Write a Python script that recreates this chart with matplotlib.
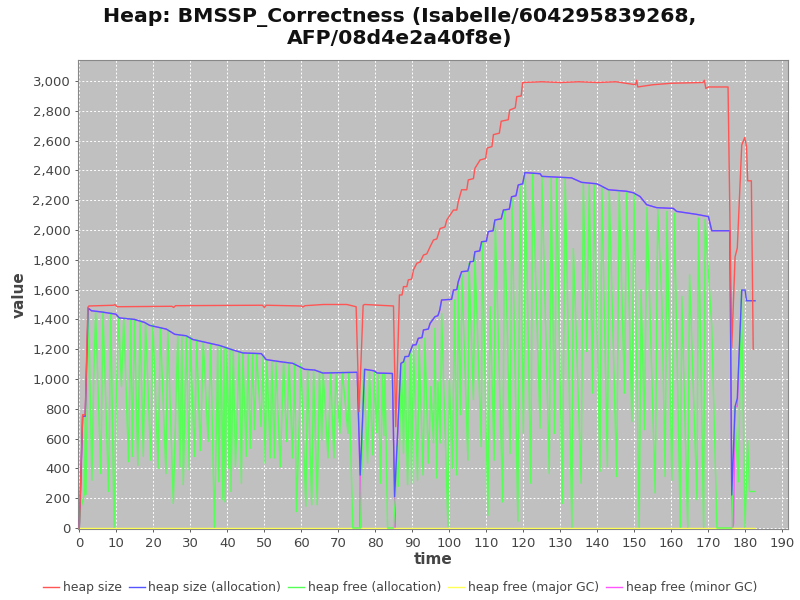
import matplotlib
matplotlib.use("Agg")
import matplotlib.pyplot as plt
from matplotlib.ticker import FuncFormatter, MultipleLocator

# heap size
size_t = [0, 0.9, 1.6, 2.3, 2.6, 9.3, 9.6, 10.2, 25.0, 25.5, 26.0, 49.5, 50.0, 50.5, 60.0, 60.4, 61.0, 66.0,
          72.3, 74.8, 75.6, 76.7, 77.1, 84.9, 85.5, 86.5, 87.2, 87.6, 88.5, 88.9, 89.8, 90.3, 91.2, 92.1,
          93.0, 93.9, 94.8, 95.7, 96.6, 97.5, 98.8, 99.3, 101.1, 102.0, 102.4, 103.3, 104.7, 105.1,
          106.5, 106.9, 108.3, 109.8, 110.2, 111.5, 111.9, 113.5, 114.0, 115.9, 116.3, 117.8, 118.2,
          119.4, 119.8, 125.0, 130.0, 135.0, 140.0, 145.0, 150.3, 150.6, 150.9, 155.0, 160.0, 168.5,
          168.9, 169.3, 170.0, 175.3, 176.3, 177.2, 177.8, 179.0, 179.8, 180.3, 180.6, 181.6, 182.1]
size_v = [0, 760, 760, 1480, 1490, 1495, 1500, 1485, 1488, 1480, 1492, 1495, 1480, 1495, 1490, 1483, 1492, 1500,
          1500, 1485, 780, 1495, 1500, 1490, 680, 1564, 1564, 1620, 1620, 1665, 1670, 1732, 1777, 1785,
          1832, 1840, 1888, 1933, 1940, 2010, 2020, 2067, 2134, 2134, 2190, 2270, 2270, 2336,
          2345, 2414, 2470, 2480, 2550, 2560, 2640, 2650, 2730, 2740, 2805, 2820, 2895,
          2900, 2990, 2995, 2990, 2995, 2990, 2995, 2975, 3005, 2960, 2975, 2985, 2990,
          3005, 2950, 2960, 2960, 1210, 1820, 1880, 2570, 2620, 2560, 2330, 2330, 1200]

# heap size (allocation)
alloc_t = [0, 0.9, 1.6, 2.4, 3.3, 6.0, 9.9, 10.8, 14.9, 17.6, 19.0, 21.7, 23.5, 25.8, 28.9, 30.7, 33.4,
           37.9, 41.5, 44.2, 49.2, 50.5, 54.6, 57.7, 60.9, 63.6, 65.8, 75.1, 75.9, 77.1, 79.6, 80.5, 84.6,
           85.2, 86.9, 87.6, 88.0, 89.0, 89.4, 90.1, 91.0, 91.6, 92.6, 93.0, 94.3, 94.8, 96.1, 96.9,
           97.4, 97.9, 100.6, 101.1, 102.0, 102.4, 103.3, 105.0, 105.6, 106.5, 106.9, 108.2, 108.7,
           110.0, 110.5, 111.8, 112.3, 114.0, 114.6, 116.2, 116.8, 118.0, 118.6, 119.8, 120.4, 124.5,
           125.0, 133.0, 135.7, 139.8, 140.7, 143.0, 147.9, 149.7, 151.5, 153.3, 156.0, 160.5, 161.4,
           166.8, 170.0, 170.9, 175.8, 176.3, 177.2, 177.8, 179.0, 179.9, 180.3, 182.6]
alloc_v = [0, 750, 750, 1475, 1458, 1450, 1435, 1410, 1400, 1380, 1360, 1345, 1335, 1300, 1290, 1265, 1250,
           1225, 1195, 1175, 1170, 1130, 1115, 1105, 1065, 1060, 1040, 1045, 355, 1065, 1055, 1040, 1037,
           210, 1105, 1115, 1150, 1152, 1183, 1228, 1230, 1273, 1278, 1329, 1335, 1374, 1418, 1425,
           1463, 1530, 1535, 1597, 1600, 1653, 1720, 1725, 1787, 1790, 1854, 1860, 1921,
           1925, 1989, 1995, 2067, 2075, 2134, 2140, 2223, 2230, 2302, 2310, 2385, 2378,
           2360, 2350, 2320, 2310, 2300, 2270, 2260, 2250, 2225, 2170, 2150, 2145, 2125,
           2105, 2090, 1995, 1995, 221, 815, 870, 1597, 1597, 1525, 1525]

# heap free (allocation)
free_t = [0.0, 0.3, 1.4, 1.6, 1.8, 2.5, 3.4, 3.9, 4.4, 5.8, 6.4, 7.9, 8.5, 9.4, 10.0, 10.6, 11.4, 12.0,
          13.3, 13.9, 14.3, 14.9, 15.8, 16.4, 17.3, 17.9, 19.3, 19.9, 21.3, 21.9, 23.4, 23.9, 25.4,
          26.6, 27.2, 27.7, 28.1, 28.9, 29.7, 30.0, 31.1, 31.7, 32.7, 33.5, 34.8, 35.5, 36.5, 37.1,
          37.4, 37.7, 38.3, 38.8, 39.1, 39.4, 39.9, 40.4, 40.7, 41.0, 41.6, 42.2, 43.2, 43.8, 44.2,
          45.1, 45.6, 46.2, 46.8, 47.3, 47.9, 49.1, 49.7, 50.2, 50.7, 51.6, 52.0, 52.7, 53.1, 54.3,
          55.2, 56.0, 56.7, 57.6, 58.2, 58.7, 59.4, 59.9, 61.2, 61.7, 62.8, 63.3, 64.3, 64.9, 65.5,
          65.9, 67.2, 67.9, 68.8, 69.3, 70.4, 71.1, 72.6, 72.8, 73.9, 75.6, 76.0, 76.4, 76.8, 77.9,
          78.4, 79.3, 79.7, 80.3, 80.7, 81.4, 81.9, 82.3, 82.6, 83.3, 84.9, 85.4, 85.8, 86.2, 87.1,
          87.6, 88.0, 88.7, 89.4, 89.8, 90.3, 91.4, 91.8, 92.9, 93.4, 94.3, 95.0, 95.7, 96.1, 96.6,
          96.9, 97.5, 97.9, 99.6, 100.0, 100.8, 101.4, 102.0, 102.4, 103.0, 103.4, 105.0, 105.3,
          106.5, 106.9, 108.6, 108.9, 110.4, 111.0, 112.1, 112.4, 114.4, 114.9, 116.4, 116.9, 118.5,
          119.1, 120.0, 120.5, 122.0, 122.5, 124.5, 125.0, 127.0, 127.5, 128.4, 129.0, 130.5, 131.3,
          133.1, 133.5, 135.6, 136.2, 137.1, 137.8, 138.7, 139.1, 140.7, 141.2, 142.7, 143.2, 145.2,
          145.9, 147.3, 147.9, 149.3, 149.9, 151.3, 151.8, 152.7, 153.4, 155.6, 156.3, 157.4, 158.3,
          158.8, 160.1, 160.8, 162.4, 162.8, 164.4, 164.9, 166.9, 167.3, 168.7, 169.1, 170.9, 172.3,
          176.3, 177.0, 178.1, 178.9, 179.9, 180.6, 181.1, 182.5]
free_v = [0, 120, 230, 740, 225, 1470, 320, 1010, 1455, 365, 1450, 245, 1445, 5, 880, 1420, 950, 1415,
          445, 1405, 480, 1400, 420, 1390, 480, 1380, 455, 1365, 400, 1345, 365, 1335, 165,
          1300, 410, 1295, 290, 1290, 390, 1280, 480, 1265, 520, 1255, 580, 1240, 5, 735,
          1225, 310, 1222, 190, 1218, 175, 1210, 400, 1205, 245, 1195, 410, 1185, 300, 1180,
          480, 1175, 535, 1172, 660, 1170, 680, 1165, 435, 1130, 470, 1125, 470, 1120, 410,
          1115, 580, 1112, 470, 1108, 110, 700, 1100, 145, 1065, 155, 1062, 155, 1058, 590,
          1048, 470, 1045, 470, 1045, 635, 1045, 635, 1045, 0, 0, 0, 480, 1060, 435,
          1055, 490, 1050, 640, 1040, 300, 1035, 620, 1035, 0, 0, 200, 550, 280, 1115,
          500, 1150, 290, 1175, 300, 1215, 320, 1230, 355, 1275, 435, 950, 570, 1340, 335,
          980, 570, 1440, 10, 995, 400, 1530, 355, 1630, 760, 1700, 455, 1775,
          860, 1845, 545, 1920, 85, 1485, 455, 2065, 175, 2130, 500, 2215, 45,
          2295, 635, 2385, 300, 2380, 670, 2358, 365, 2355, 635, 2350, 165, 2348,
          5, 1875, 300, 2313, 1185, 2305, 905, 2302, 380, 2290, 410, 2265, 345,
          2257, 905, 2250, 715, 2245, 5, 1600, 660, 2150, 235, 2140, 1530, 345,
          2125, 320, 2112, 5, 1555, 5, 1700, 190, 2080, 5, 2070, 1350, 0,
          0, 815, 310, 1600, 5, 590, 245, 245]

# heap free (major GC)
major_t = [0, 85.3, 176.3, 182.5]
major_v = [0, 0, 0, 0]

# heap free (minor GC)
minor_t = [0, 0.3, 0.9, 1.6, 2.4, 3.3, 6.0, 9.9, 10.8, 14.9, 17.6, 19.0, 21.7, 23.5, 25.8, 28.9, 30.7,
           33.4, 37.9, 41.5, 44.2, 49.2, 50.5, 54.6, 57.7, 60.9, 63.6, 65.8, 75.1, 75.85, 75.95, 76.05,
           77.1, 79.6, 80.5, 84.6, 85.2, 85.3, 85.45, 86.9, 87.6, 88.0, 89.0, 89.4, 90.1, 91.0, 91.6,
           92.6, 93.0, 94.3, 94.8, 96.1, 96.9, 97.4, 97.9, 100.6, 101.1, 102.0, 102.4, 103.3, 105.0,
           105.6, 106.5, 106.9, 108.2, 108.7, 110.0, 110.5, 111.8, 112.3, 114.0, 114.6, 116.2, 116.8,
           118.0, 118.6, 119.8, 120.4, 124.5, 125.0, 133.0, 135.7, 139.8, 140.7, 143.0, 147.9, 149.7,
           151.5, 153.3, 156.0, 160.5, 161.4, 166.8, 170.0, 170.9, 175.8, 176.3, 176.5, 176.8, 177.2,
           177.8, 179.0]
minor_v = [0, 150, 750, 750, 1475, 1458, 1450, 1435, 1410, 1400, 1380, 1360, 1345, 1335, 1300, 1290, 1265,
           1250, 1225, 1195, 1175, 1170, 1130, 1115, 1105, 1065, 1060, 1040, 1045, 355, 0, 360,
           1065, 1055, 1040, 1037, 210, 0, 300, 1105, 1115, 1150, 1152, 1183, 1228, 1230, 1273,
           1278, 1329, 1335, 1374, 1418, 1425, 1463, 1530, 1535, 1597, 1600, 1653, 1720, 1725,
           1787, 1790, 1854, 1860, 1921, 1925, 1989, 1995, 2067, 2075, 2134, 2140, 2223,
           2230, 2302, 2310, 2385, 2378, 2360, 2350, 2320, 2310, 2300, 2270, 2260, 2250,
           2225, 2170, 2150, 2145, 2125, 2105, 2090, 1995, 1995, 221, 0, 30, 815,
           815, 1597]

labels = ["heap size", "heap size (allocation)", "heap free (allocation)",
          "heap free (major GC)", "heap free (minor GC)"]
colors = ["#ff5555", "#5555ff", "#55ff55", "#ffff55", "#ff55ff"]

fig = plt.figure(figsize=(8, 6), dpi=100)
ax = fig.add_axes([0.0975, 0.1183, 0.8875, 0.7817])
ax.set_facecolor("#c0c0c0")

series = [(size_t, size_v), (alloc_t, alloc_v), (free_t, free_v), (major_t, major_v), (minor_t, minor_v)]
lines = []
for i, (t, v) in enumerate(series):
    ln, = ax.plot(t, v, color=colors[i], lw=1.0, label=labels[i], zorder=10 - i)
    lines.append(ln)

ax.set_xlim(-0.35, 191.5)
ax.set_ylim(-7, 3141)
ax.xaxis.set_major_locator(MultipleLocator(10))
ax.yaxis.set_major_locator(MultipleLocator(200))
ax.yaxis.set_major_formatter(FuncFormatter(lambda v, _: f"{int(v):,}"))
ax.grid(True, color="white", ls=(0, (2, 2)), lw=0.7, zorder=0)
ax.set_axisbelow(True)
ax.tick_params(labelsize=9.5, colors="#444444", length=2, width=0.6)
for s in ax.spines.values():
    s.set_color("#888888")
    s.set_linewidth(0.8)
ax.set_xlabel("time", fontsize=11, weight="bold", color="#444444", labelpad=2)
ax.set_ylabel("value", fontsize=11, weight="bold", color="#444444", labelpad=4)

fig.text(0.5, 0.988, "Heap: BMSSP_Correctness (Isabelle/604295839268,\nAFP/08d4e2a40f8e)",
         ha="center", va="top", fontsize=14.7, weight="bold", color="#111111", linespacing=1.1)

fig.legend(handles=lines, loc="center", bbox_to_anchor=(0.5, 0.021), ncol=5, frameon=False,
           fontsize=8.9, handlelength=1.3, handletextpad=0.3, columnspacing=0.55,
           labelcolor="#444444")

fig.savefig("out.png", dpi=100)
